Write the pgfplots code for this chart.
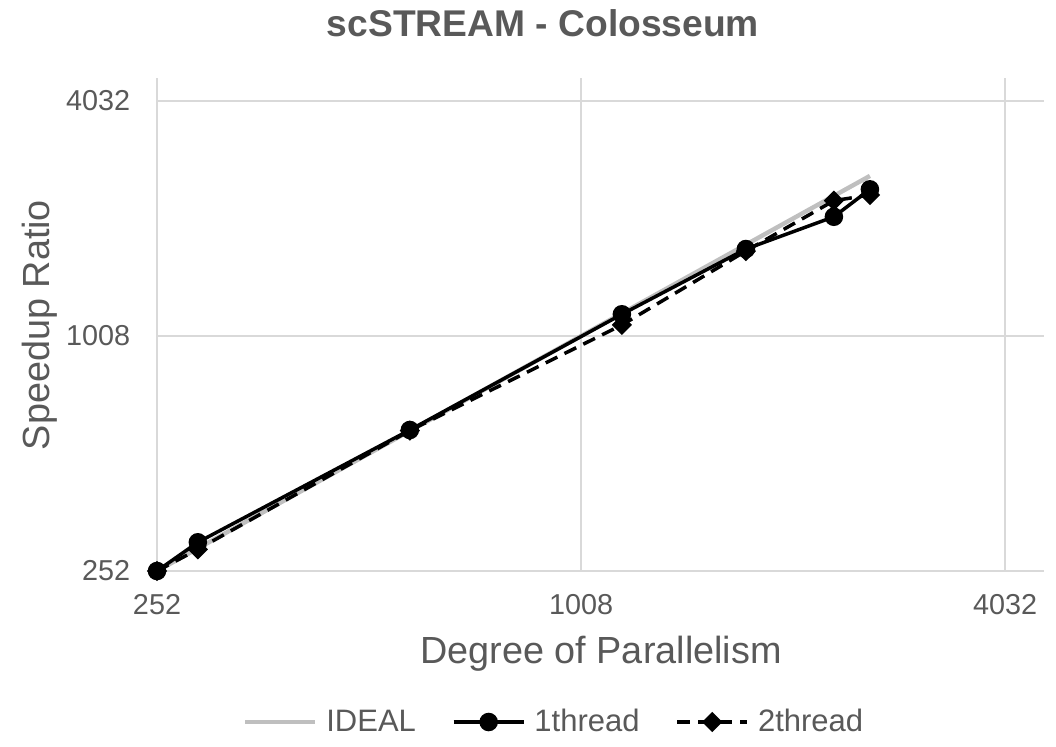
\documentclass[border=0pt]{standalone}
\usepackage{pgfplots}
\pgfplotsset{compat=1.18}
\usepackage{fontspec}
\setmainfont{Liberation Sans}
\definecolor{txt}{HTML}{595959}
\definecolor{gridc}{HTML}{D9D9D9}
\definecolor{ideal}{HTML}{BFBFBF}
\begin{document}
\begin{tikzpicture}
\path[use as bounding box] (-78.5pt,-87.5pt) rectangle (449.5pt,285.5pt);
\begin{axis}[
  at={(0pt,0pt)}, anchor=south west,
  scale only axis, width=443.5pt, height=246.5pt,
  xmode=log, ymode=log, log basis x=2, log basis y=2,
  xmin=252, xmax=4580, ymin=252, ymax=4619,
  xtick={252,1008,4032}, xticklabels={252,1008,4032},
  ytick={252,1008,4032}, yticklabels={252,1008,4032},
  minor xtick={}, minor ytick={},
  grid=major, major grid style={color=gridc, line width=1pt},
  major tick length=0pt,
  axis x line*=bottom, axis y line*=left,
  axis line style={draw=none},
  xticklabel style={font=\fontsize{14.4pt}{16pt}\selectfont, text=txt, anchor=base, yshift=-22pt, inner sep=0pt},
  yticklabel style={font=\fontsize{14.4pt}{16pt}\selectfont, text=txt, anchor=east, xshift=-13.2pt, inner sep=0pt},
  clip=false,
  legend columns=3,
  legend style={draw=none, fill=none, at={(0.4465,-0.3063)}, anchor=center,
    font=\fontsize{15.5pt}{17pt}\selectfont, text=txt,
    nodes={inner xsep=0pt},
    /tikz/every odd column/.append style={column sep=4.5pt},
    /tikz/every even column/.append style={column sep=18pt}},
  legend image code/.code={\draw[mark repeat=2,mark phase=2,#1] plot coordinates {(0pt,0pt) (17.5pt,0pt) (35pt,0pt)};},
]
\addplot[ideal, line width=2.2pt, no markers] coordinates {(252,252) (2592,2592)};
\addlegendentry{IDEAL}
\addplot[black, line width=1.75pt, mark=*, mark size=3.75pt, mark options={solid}] coordinates {
(252,252) (288,298.5) (576,579) (1152,1146) (1728,1684) (2304,2037) (2592,2395)};
\addlegendentry{1thread}
\addplot[black, line width=1.75pt, dash pattern=on 6.5pt off 4pt, mark=square*, mark size=2.7pt, mark options={solid, rotate=45}] coordinates {
(252,252) (288,286.4) (576,577) (1152,1076) (1728,1664) (2304,2240) (2592,2316)};
\addlegendentry{2thread}
\end{axis}
\node[anchor=base, text=txt, font=\fontsize{18.6pt}{21pt}\selectfont\bfseries] at (193pt,267.15pt) {scSTREAM - Colosseum};
\node[anchor=base, text=txt, font=\fontsize{18.9pt}{22pt}\selectfont] at (222pt,-46pt) {Degree of Parallelism};
\node[anchor=base, rotate=90, text=txt, font=\fontsize{18.9pt}{22pt}\selectfont] at (-53.5pt,123pt) {Speedup Ratio};
\end{tikzpicture}
\end{document}
